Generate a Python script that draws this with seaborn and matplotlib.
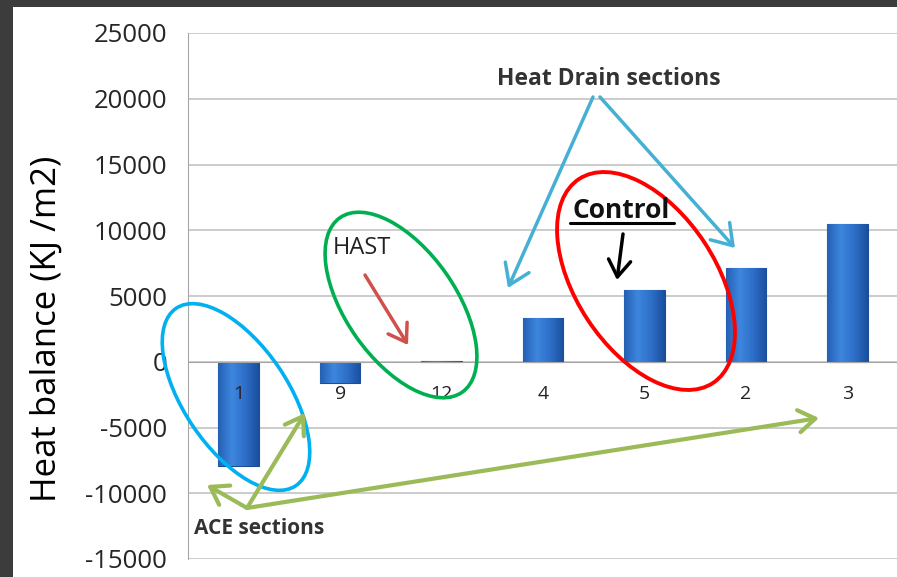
import numpy as np
import pandas as pd
import matplotlib
matplotlib.use("Agg")
import matplotlib.pyplot as plt
import matplotlib.transforms as mtransforms
from matplotlib.patches import Ellipse, FancyArrowPatch, Rectangle
from matplotlib.colors import LinearSegmentedColormap
import seaborn as sns

# data
sections = ["1", "9", "12", "4", "5", "2", "3"]
heat_balance = [-7950, -1650, 60, 3300, 5480, 7150, 10450]
y_ticks = [-15000, -10000, -5000, 0, 5000, 10000, 15000, 20000, 25000]

sns.set_style("white")
plt.rcParams["font.family"] = ["Open Sans", "DejaVu Sans"]

W, H = 897, 577
fig = plt.figure(figsize=(W / 100, H / 100), dpi=100, facecolor="#3c3c3c")
# pixel coordinates of the picture (y down)
pix = mtransforms.Affine2D().scale(1 / 100, -1 / 100).translate(0, H / 100) + fig.dpi_scale_trans

fig.add_artist(Rectangle((13, 7), W, H, transform=pix, facecolor="white",
                         edgecolor="none", zorder=-10))

ax = fig.add_axes([188 / W, 1 - 559 / H, 710 / W, 526 / H])
ax.set_facecolor("none")

df = pd.DataFrame({"section": sections, "heat": heat_balance})
sns.barplot(data=df, x="section", y="heat", order=sections, width=0.4,
            color="#2b6cc4", saturation=1, edgecolor="#1d4d96", linewidth=0.8, ax=ax)

# shaded look on the bars
cmap = LinearSegmentedColormap.from_list("bar", ["#2560b4", "#3d86de", "#2e6fc8", "#1b4f9e"])
grad = np.linspace(0, 1, 64).reshape(1, -1)
for p in list(ax.patches):
    x0, y0 = p.get_x(), p.get_y()
    w, h = p.get_width(), p.get_height()
    p.set_zorder(1)
    im = ax.imshow(grad, extent=[x0, x0 + w, min(y0, y0 + h), max(y0, y0 + h)],
                   aspect="auto", cmap=cmap, zorder=1.1)
    im.set_clip_path(p)

ax.set_axisbelow(False)
ax.set_xlim(-0.5, len(sections) - 0.5)
ax.set_ylim(-15000, 25000)
ax.set_yticks(y_ticks)
ax.set_yticklabels([str(v) for v in y_ticks])
for v in y_ticks:
    ax.axhline(v, color="#bfbfbf", lw=1.1, zorder=0)

ax.spines["top"].set_visible(False)
ax.spines["right"].set_visible(False)
ax.spines["left"].set_color("#a6a6a6")
ax.spines["bottom"].set_color("#a6a6a6")
ax.spines["bottom"].set_position(("data", 0))

ax.set_xticks(range(len(sections)))
ax.set_xticks(np.arange(0.5, len(sections) - 1, 1), minor=True)
ax.tick_params(axis="x", which="major", length=0, pad=17, labelsize=14, labelcolor="#222222")
ax.tick_params(axis="x", which="minor", length=5, width=1, color="#a6a6a6", direction="out")
ax.tick_params(axis="y", length=7, width=1, color="#a6a6a6", direction="out",
               pad=8, labelsize=18.5, labelcolor="#262626")
ax.set_xlabel("")
ax.set_ylabel("Heat balance (KJ /m2)", fontsize=25, color="black")
ax.yaxis.set_label_coords(-0.175, 0.437)

# ellipses
fig.add_artist(Ellipse((236, 397), 214, 104, angle=56, transform=pix, fill=False,
                       edgecolor="#00b0f0", lw=2.6))
fig.add_artist(Ellipse((401, 305), 213, 110, angle=55, transform=pix, fill=False,
                       edgecolor="#00b050", lw=2.6))
fig.add_artist(Ellipse((646, 281), 244, 140, angle=56.7, transform=pix, fill=False,
                       edgecolor="#ff0000", lw=2.8))


def arrow(a, b, color, lw=2.5, head=12):
    fig.add_artist(FancyArrowPatch(a, b, transform=pix, color=color, lw=lw,
                                   arrowstyle=f"->,head_length={head / 20},head_width={head / 30}",
                                   mutation_scale=20, shrinkA=0, shrinkB=0))


# Heat drain
fig.text(609, 85, "Heat Drain sections", transform=pix, ha="center", va="baseline",
         fontsize=16.5, fontweight="bold", color="#333333")
arrow((593, 97), (508, 288), "#45b0d4", head=14)
arrow((600, 97), (735, 248), "#45b0d4", head=14)

# HAST
fig.text(333, 254, "HAST", transform=pix, ha="left", va="baseline", fontsize=17, color="#222222")
arrow((365, 275), (408, 345), "#d0504a")

# Control
fig.text(572, 218, "Control", transform=pix, ha="left", va="baseline",
         fontsize=19, fontweight="bold", color="#111111")
fig.add_artist(plt.Line2D([570, 674], [223, 223], transform=pix, color="black", lw=2.2))
arrow((623, 234), (617, 280), "black")

# ACE
fig.text(194, 534, "ACE sections", transform=pix, ha="left", va="baseline",
         fontsize=15, fontweight="bold", color="#333333")
for tgt in [(207, 485), (305, 413), (819, 418)]:
    arrow((247, 508), tgt, "#9bbb59", lw=3)

fig.savefig("out.png", dpi=100, facecolor=fig.get_facecolor())
